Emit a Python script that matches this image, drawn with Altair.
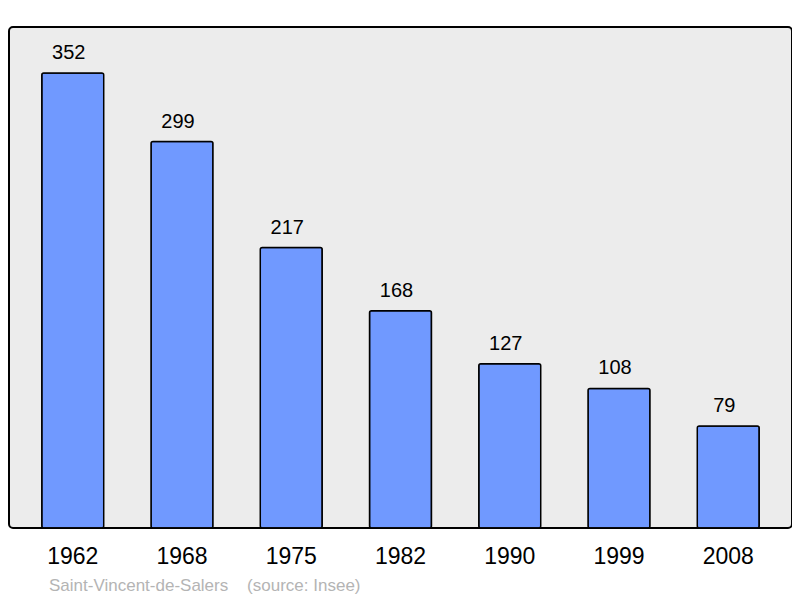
import altair as alt
import pandas as pd

years = ["1962", "1968", "1975", "1982", "1990", "1999", "2008"]
population = [352, 299, 217, 168, 127, 108, 79]
source_text = "Saint-Vincent-de-Salers\u00a0\u00a0\u00a0\u00a0(source: Insee)"

df = pd.DataFrame({"year": years, "pop": population})

x = alt.X("year:N", sort=years, title=None,
          scale=alt.Scale(paddingInner=0.433, paddingOuter=0.3),
          axis=alt.Axis(domain=False, ticks=False, labelAngle=0, labelFontSize=23,
                        labelFont="Liberation Sans", labelColor="#000000", labelPadding=17))
y = alt.Y("pop:Q", title=None, scale=alt.Scale(domain=[0, 387.6], nice=False, zero=True),
          axis=None)

bars = alt.Chart(df).mark_bar(color="#7099ff", stroke="#000000", strokeWidth=1.5,
                              cornerRadius=2).encode(x=x, y=y)
labels = alt.Chart(df).mark_text(font="Liberation Sans", fontSize=20, dy=-14, dx=-4,
                                 baseline="alphabetic", color="#000000").encode(
    x=x, y=y, text="pop:Q")

chart = (bars + labels).properties(
    width=783, height=501,
    autosize="none",
    background="#ffffff",
    padding={"left": 1, "top": 19, "right": 0, "bottom": 70},
    title=alt.TitleParams(source_text, orient="bottom", anchor="start", dx=40,
                          offset=10, font="Liberation Sans", fontSize=17,
                          fontWeight="normal", color="#b4b4b4"),
).configure_view(
    fill="#ececec", stroke="#000000", strokeWidth=2, cornerRadius=4
)

chart.save("out.html", embed_options={"renderer": "svg", "actions": False})
